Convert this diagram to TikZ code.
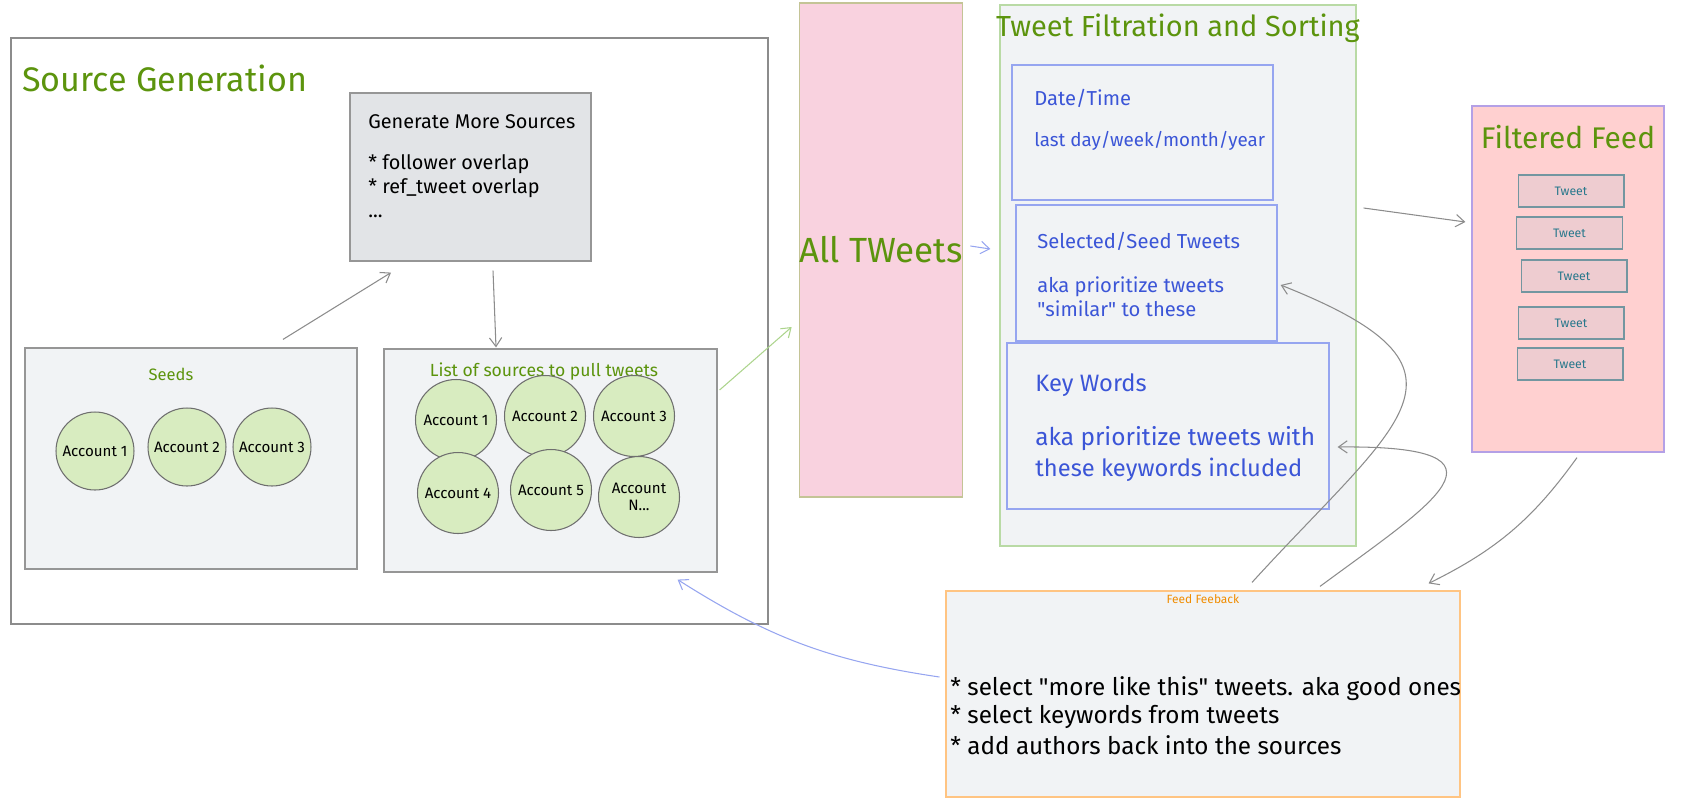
\documentclass[tikz,border=0pt]{standalone}
\usepackage{fontspec}
\setmainfont{Fira Sans}
\usetikzlibrary{arrows.meta}

\definecolor{titlegreen}{RGB}{92,148,13}
\definecolor{textblue}{RGB}{59,85,215}
\definecolor{boxblue}{RGB}{150,165,240}
\definecolor{lightfill}{RGB}{241,243,245}
\definecolor{genfill}{RGB}{226,228,231}
\definecolor{edgegray}{RGB}{150,150,150}
\definecolor{outergray}{RGB}{140,140,140}
\definecolor{pinkfill}{RGB}{249,210,223}
\definecolor{khaki}{RGB}{196,196,150}
\definecolor{palegreen}{RGB}{185,218,165}
\definecolor{feedfill}{RGB}{255,208,208}
\definecolor{lavender}{RGB}{180,160,230}
\definecolor{tweetfill}{RGB}{238,204,208}
\definecolor{tweetedge}{RGB}{115,150,160}
\definecolor{tweettext}{RGB}{40,120,140}
\definecolor{orangeedge}{RGB}{255,196,130}
\definecolor{orangetext}{RGB}{240,140,0}
\definecolor{circfill}{RGB}{216,236,192}
\definecolor{circedge}{RGB}{110,110,110}
\definecolor{arrowgray}{RGB}{140,140,140}
\definecolor{arrowblue}{RGB}{150,165,240}
\definecolor{arrowgreen}{RGB}{172,212,140}

\tikzset{
  panel/.style={draw=edgegray, fill=lightfill, line width=0.7pt, inner sep=0pt},
  heading/.style={text=titlegreen, inner sep=0pt},
  plain/.style={text=black, inner sep=0pt},
  bluetext/.style={text=textblue, inner sep=0pt},
  account/.style={circle, draw=circedge, fill=circfill, line width=0.6pt,
    minimum size=1.56cm, inner sep=0pt, align=center,
    font=\fontsize{8.6}{9.6}\selectfont},
  tweetbox/.style={draw=tweetedge, fill=tweetfill, line width=0.6pt,
    minimum width=2.12cm, minimum height=0.64cm, text=tweettext,
    font=\fontsize{7}{8}\selectfont},
  conn/.style={draw=arrowgray, line width=0.6pt,
    arrows={->[length=5pt, width=7pt]}, >={Straight Barb}},
}

\begin{document}
\begin{tikzpicture}[x=0.02cm, y=-0.02cm]
  \useasboundingbox (0,0) rectangle (1693,805);
  % Source generation frame
  \node[panel, draw=outergray, fill=white, minimum width=15.14cm, minimum height=11.72cm] (srcgen) at (389.5,331) {};
  \node[heading, anchor=west, font=\fontsize{19.4}{23}\selectfont] (srctitle) at (22,78) {Source Generation};
  % Generate more sources
  \node[panel, fill=genfill, minimum width=4.82cm, minimum height=3.36cm] (gen) at (470.5,177) {};
  \node[plain, anchor=west, font=\fontsize{11.3}{13.6}\selectfont] (gentitle) at (368,122) {Generate More Sources};
  \node[plain, anchor=north west, align=left, font=\fontsize{11.3}{13.6}\selectfont] (genlist) at (368,154) {* follower overlap\\* ref\_tweet overlap\\...};
  % Seeds
  \node[panel, minimum width=6.64cm, minimum height=4.42cm] (seeds) at (191,458.5) {};
  \node[heading, font=\fontsize{9.4}{11}\selectfont] (seedstitle) at (171,374) {Seeds};
  \node[account] (seedA) at (95,451) {Account 1};
  \node[account] (seedB) at (187,447) {Account 2};
  \node[account] (seedC) at (272,447) {Account 3};
  % List of sources
  \node[panel, minimum width=6.66cm, minimum height=4.46cm] (list) at (550.5,460.5) {};
  \node[heading, font=\fontsize{10}{12}\selectfont] (listtitle) at (544,372) {List of sources to pull tweets};
  \node[account, minimum size=1.62cm] (srcA) at (456,420) {Account 1};
  \node[account, minimum size=1.62cm] (srcB) at (545,416) {Account 2};
  \node[account, minimum size=1.62cm] (srcC) at (634,416) {Account 3};
  \node[account, minimum size=1.62cm] (srcD) at (458,493) {Account 4};
  \node[account, minimum size=1.62cm] (srcE) at (551,490) {Account 5};
  \node[account, minimum size=1.62cm] (srcN) at (639,497) {Account\\N...};
  % All tweets
  \node[panel, draw=khaki, fill=pinkfill, minimum width=3.2cm, minimum height=9.88cm, text=titlegreen, font=\fontsize{19.9}{23}\selectfont] (alltweets) at (881,250) {All TWeets};
  % Tweet filtration and sorting
  \node[panel, draw=palegreen, minimum width=7.12cm, minimum height=10.82cm] (filt) at (1178,275.5) {};
  \node[heading, font=\fontsize{16.5}{19}\selectfont] (filttitle) at (1178,28) {Tweet Filtration and Sorting};
  \node[panel, draw=boxblue, minimum width=5.22cm, minimum height=2.7cm] (datetime) at (1142.5,132.5) {};
  \node[bluetext, anchor=west, font=\fontsize{11.5}{14}\selectfont] (datetitle) at (1034,98) {Date/Time};
  \node[bluetext, anchor=west, font=\fontsize{10.7}{13}\selectfont] (datetext) at (1034,141) {last day/week/month/year};
  \node[panel, draw=boxblue, minimum width=5.22cm, minimum height=2.72cm] (selected) at (1146.5,273) {};
  \node[bluetext, anchor=west, font=\fontsize{11.5}{14}\selectfont] (seltitle) at (1037,241) {Selected/Seed Tweets};
  \node[bluetext, anchor=west, font=\fontsize{11.5}{14}\selectfont] (seltextA) at (1037,287) {aka prioritize tweets};
  \node[bluetext, anchor=west, font=\fontsize{11.5}{14}\selectfont] (seltextB) at (1037,309) {\textquotedbl similar\textquotedbl{} to these};
  \node[panel, draw=boxblue, minimum width=6.44cm, minimum height=3.32cm] (keywords) at (1168,426) {};
  \node[bluetext, anchor=west, font=\fontsize{13.5}{16}\selectfont] (keytitle) at (1035,385) {Key Words};
  \node[bluetext, anchor=west, font=\fontsize{13.9}{16}\selectfont] (keytextA) at (1035,439) {aka prioritize tweets with};
  \node[bluetext, anchor=west, font=\fontsize{13.5}{16}\selectfont] (keytextB) at (1035,470) {these keywords included};
  % Filtered feed
  \node[panel, draw=lavender, fill=feedfill, minimum width=3.84cm, minimum height=6.92cm] (feed) at (1568,279) {};
  \node[heading, font=\fontsize{17}{20}\selectfont] (feedtitle) at (1568,137) {Filtered Feed};
  \node[tweetbox] (tweetA) at (1571,191) {Tweet};
  \node[tweetbox] (tweetB) at (1569.5,233) {Tweet};
  \node[tweetbox] (tweetC) at (1574,276) {Tweet};
  \node[tweetbox] (tweetD) at (1571,323) {Tweet};
  \node[tweetbox] (tweetE) at (1570,364) {Tweet};
  % Feed feedback
  \node[panel, draw=orangeedge, minimum width=10.28cm, minimum height=4.12cm] (feedback) at (1203,694) {};
  \node[inner sep=0pt, text=orangetext, font=\fontsize{6.8}{8}\selectfont] (fbtitle) at (1203,599) {Feed Feeback};
  \node[plain, anchor=west, font=\fontsize{13.8}{16}\selectfont] (fbA) at (950,689) {* select \textquotedbl more like this\textquotedbl{} tweets. aka good ones};
  \node[plain, anchor=west, font=\fontsize{13.8}{16}\selectfont] (fbB) at (950,717) {* select keywords from tweets};
  \node[plain, anchor=west, font=\fontsize{13.8}{16}\selectfont] (fbC) at (950,745) {* add authors back into the sources};
  % Connectors
  \draw[conn] ([shift={(92,-8)}]seeds.north) -- ([shift={(-79.5,11)}]gen.south);
  \draw[conn] ([shift={(22.5,9)}]gen.south) -- ([shift={(-54.5,-1)}]list.north);
  \draw[conn, draw=arrowgreen] ([shift={(2,-70.5)}]list.east) -- ([shift={(-7,77)}]alltweets.west);
  \draw[conn, draw=arrowblue] ([shift={(7,-4)}]alltweets.east) -- ([shift={(-25,-24)}]selected.west);
  \draw[conn] ([shift={(7,-67.5)}]filt.east) -- ([shift={(-6,-57)}]feed.west);
  \draw[conn] ([shift={(9,5)}]feed.south) to[bend left=14] ([shift={(-32,-7)}]feedback.north east);
  \draw[conn] ([shift={(49,-8)}]feedback.north) .. controls (1400,420) and (1495,370) .. ([shift={(3,12)}]selected.east);
  \draw[conn] ([shift={(117,-4)}]feedback.north) .. controls (1430,505) and (1530,445) .. ([shift={(8,21)}]keywords.east);
  \draw[conn, draw=arrowblue] ([shift={(-6,-17)}]feedback.west) to[bend left=12] ([shift={(-40,7)}]list.south east);
\end{tikzpicture}
\end{document}
